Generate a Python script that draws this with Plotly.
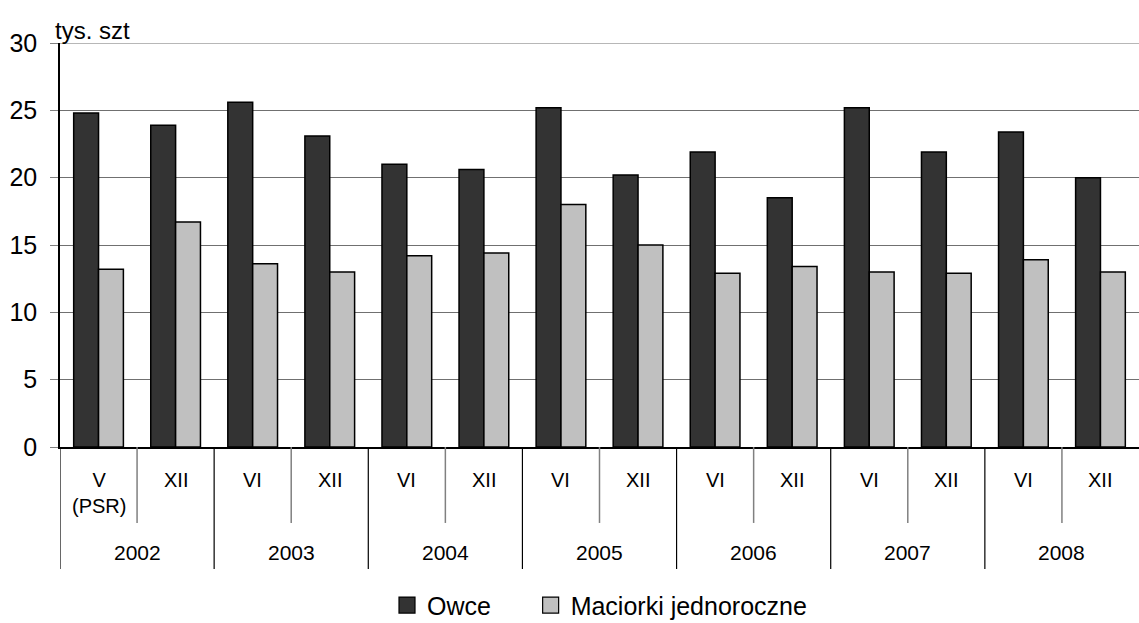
import plotly.graph_objects as go

years = ["2002", "2003", "2004", "2005", "2006", "2007", "2008"]
months = ["V<br>(PSR)", "XII", "VI", "XII", "VI", "XII", "VI", "XII", "VI", "XII", "VI", "XII", "VI", "XII"]
owce = [24.8, 23.9, 25.6, 23.1, 21.0, 20.6, 25.2, 20.2, 21.9, 18.5, 25.2, 21.9, 23.4, 20.0]
maciorki = [13.2, 16.7, 13.6, 13.0, 14.2, 14.4, 18.0, 15.0, 12.9, 13.4, 13.0, 12.9, 13.9, 13.0]
y_ticks = [0, 5, 10, 15, 20, 25, 30]

FONT = "Liberation Sans, Arial, sans-serif"
NB = "\u00a0"
idx = list(range(len(months)))

fig = go.Figure()
fig.add_trace(go.Bar(x=idx, y=owce, name="Owce", showlegend=False,
                     marker=dict(color="#333333", line=dict(color="#000000", width=1.5))))
fig.add_trace(go.Bar(x=idx, y=maciorki, name="Maciorki jednoroczne", showlegend=False,
                     marker=dict(color="#C0C0C0", line=dict(color="#000000", width=1.5))))
# legend entries with larger square symbols
fig.add_trace(go.Scatter(x=[None], y=[None], mode="markers", name="Owce" + NB * 5,
                         marker=dict(symbol="square", size=19, color="#333333",
                                     line=dict(color="#000000", width=1.2))))
fig.add_trace(go.Scatter(x=[None], y=[None], mode="markers", name="Maciorki jednoroczne",
                         marker=dict(symbol="square", size=19, color="#C0C0C0",
                                     line=dict(color="#000000", width=1.2))))

shapes = []
annotations = []
# top gridline at 30
shapes.append(dict(type="line", xref="paper", yref="y", x0=0, x1=1, y0=30, y1=30,
                   line=dict(color="#707070", width=1.2)))
# month labels and dividers
for i, m in enumerate(months):
    annotations.append(dict(x=i, y=-0.049, xref="x", yref="paper", text=m, showarrow=False,
                            xanchor="center", yanchor="top",
                            font=dict(family=FONT, size=20, color="#000000")))
    if i % 2 == 0:
        shapes.append(dict(type="line", xref="x", yref="paper", x0=i + 0.5, x1=i + 0.5,
                           y0=0, y1=-0.188, line=dict(color="#808080", width=1.5)))
# year labels and dividers
for k, yr in enumerate(years):
    annotations.append(dict(x=2 * k + 0.5, y=-0.261, xref="x", yref="paper", text=yr, showarrow=False,
                            xanchor="center", yanchor="middle",
                            font=dict(family=FONT, size=21, color="#000000")))
    shapes.append(dict(type="line", xref="x", yref="paper", x0=2 * k - 0.5, x1=2 * k - 0.5,
                       y0=0, y1=-0.302, line=dict(color="#000000", width=1.2)))

annotations.append(dict(x=-0.0065, y=1.03, xref="paper", yref="paper", text="tys. szt",
                        showarrow=False, xanchor="left", yanchor="middle",
                        font=dict(family=FONT, size=24, color="#000000")))

fig.update_layout(
    width=1139, height=623,
    margin=dict(l=60, r=0, t=43, b=176, autoexpand=False),
    paper_bgcolor="white", plot_bgcolor="white",
    barmode="group", bargap=0.355, bargroupgap=0,
    font=dict(family=FONT, color="#000000"),
    shapes=shapes, annotations=annotations,
    legend=dict(orientation="h", x=0.5, xanchor="center", y=-0.392, yanchor="middle",
                font=dict(family=FONT, size=25, color="#000000"), itemwidth=30,
                itemsizing="trace", traceorder="normal"),
    xaxis=dict(range=[-0.5, 13.5], showticklabels=False, ticks="", showgrid=False,
               showline=True, linecolor="#000000", linewidth=1.5, zeroline=False, fixedrange=True),
    yaxis=dict(range=[0, 30], tickvals=y_ticks, ticks="outside", ticklen=8, tickcolor="#808080",
               tickfont=dict(family=FONT, size=25, color="#000000"), ticklabelstandoff=8,
               showgrid=True, gridcolor="#707070", gridwidth=1.2,
               showline=True, linecolor="#000000", linewidth=1.5, zeroline=False),
)

fig.write_html("out.html", config={"displayModeBar": False},
               post_script="document.body.style.margin='0';document.body.style.padding='0';document.body.style.overflow='hidden';")
